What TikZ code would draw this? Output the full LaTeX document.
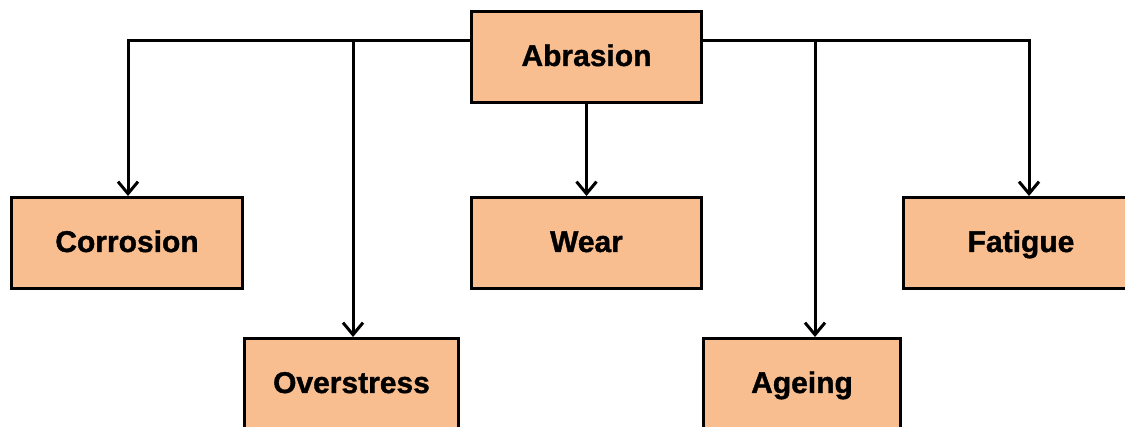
\documentclass[tikz,border=0pt]{standalone}
\usepackage{fontspec}
\setmainfont{Liberation Sans}[BoldFeatures={FakeBold=1.2}]
\usetikzlibrary{positioning, arrows.meta}

\definecolor{peach}{RGB}{248,190,144}

\begin{document}
\begin{tikzpicture}[x=1pt, y=-1pt, node distance=92pt,
    cause/.style={draw, fill=peach, line width=3pt, inner sep=0pt,
        minimum height=91pt, text height=24pt, text depth=6pt,
        font=\fontsize{30}{36}\selectfont\bfseries},
    arrow/.style={line width=3pt, -{Straight Barb[length=12pt, width=20pt]}}]
    \useasboundingbox (0,0) rectangle (1125,427);

    \node[cause, minimum width=230pt] at (586.5,57)                        (Abrasion)   {Abrasion};
    \node[cause, minimum width=230pt, below=of Abrasion]                   (Wear)       {Wear};
    \node[cause, minimum width=231pt, left=226pt of Wear]                  (Corrosion)  {Corrosion};
    \node[cause, minimum width=235pt, right=199pt of Wear]                 (Fatigue)    {Fatigue};
    \node[cause, minimum width=214pt, below right=47pt and -1pt of Corrosion] (Overstress) {Overstress};
    \node[cause, minimum width=197pt, below right=47pt and -1pt of Wear]   (Ageing)     {Ageing};

    \coordinate (bus west) at ([yshift=16pt]Abrasion.west);
    \coordinate (bus east) at ([yshift=16pt]Abrasion.east);

    \draw[arrow] (bus west) -| ([xshift=1pt]Corrosion.north);
    \draw[arrow] ([xshift=1.5pt]Overstress.north |- bus west) -- ([xshift=1.5pt]Overstress.north);
    \draw[arrow] (Abrasion) -- (Wear);
    \draw[arrow] ([xshift=13pt]Ageing.north |- bus east) -- ([xshift=13pt]Ageing.north);
    \draw[arrow] (bus east) -| ([xshift=8pt]Fatigue.north);
\end{tikzpicture}
\end{document}
